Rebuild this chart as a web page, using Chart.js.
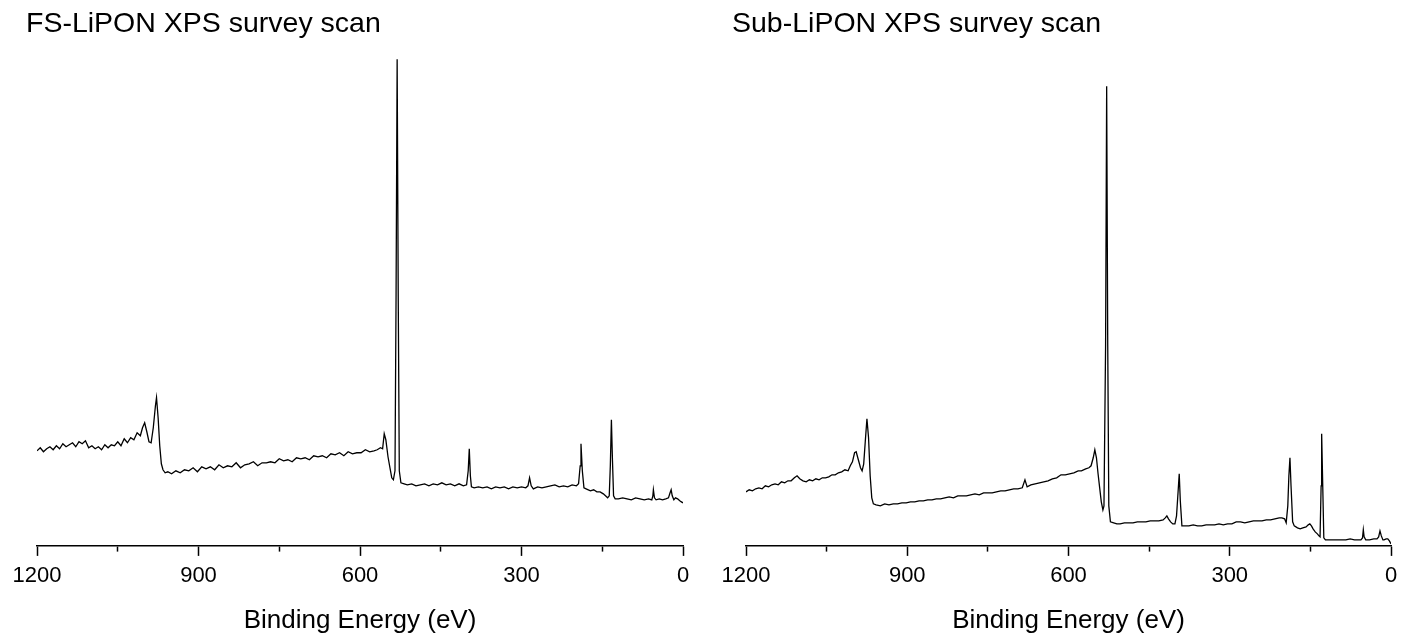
<!DOCTYPE html>
<html>
<head>
<meta charset="utf-8">
<script src="https://cdn.jsdelivr.net/npm/chart.js@4"></script>
<style>
  body { margin: 0; background: #fff; }
  .panel { position: absolute; top: 0; height: 636px; }
</style>
</head>
<body>
<div class="panel" style="left:0;width:708px"><canvas id="fsChart" width="708" height="636"></canvas></div>
<div class="panel" style="left:708px;width:709px"><canvas id="subChart" width="709" height="636"></canvas></div>
<script>
const majorTicks = [1200, 900, 600, 300, 0];
const minorTicks = [1050, 750, 450, 150];

// FS-LiPON survey, binding energy (eV) and intensity (a.u.)
const fsEnergy = [
  1200, 1194, 1188, 1182, 1176, 1170, 1164, 1158, 1152, 1146,
  1140, 1134, 1128, 1122, 1116, 1110, 1104, 1098, 1092, 1086,
  1080, 1074, 1068, 1062, 1056, 1050, 1044, 1038, 1032, 1026,
  1020, 1014, 1008, 1004, 1000, 996, 992, 988, 984, 980,
  978, 975, 972, 969, 966, 962, 957, 950, 942, 934,
  926, 918, 910, 902, 894, 886, 878, 870, 862, 854,
  846, 838, 830, 822, 814, 806, 798, 790, 782, 774,
  766, 758, 750, 742, 734, 726, 718, 710, 702, 694,
  686, 678, 670, 662, 654, 646, 638, 630, 622, 614,
  606, 598, 590, 582, 574, 568, 562, 558, 555, 552,
  548, 544, 541, 538, 535, 533, 531, 529, 527, 524,
  518, 512, 504, 496, 488, 480, 472, 464, 456, 448,
  440, 432, 424, 416, 408, 402, 399, 397, 395, 393,
  388, 380, 372, 364, 356, 348, 340, 332, 324, 316,
  308, 300, 292, 288, 285, 282, 278, 270, 262, 254,
  246, 238, 230, 222, 214, 206, 198, 194, 191, 189.5,
  187, 184, 180, 172, 166, 160, 154, 148, 144, 140,
  137, 135, 133, 131, 129, 126, 120, 112, 104, 96,
  88, 80, 72, 64, 58, 56, 55, 53, 50, 44,
  38, 32, 27, 24, 22, 20, 17, 14, 10, 6,
  3, 0
];
const fsCounts = [
  95, 98, 94, 97, 99, 96, 100, 97, 102, 99,
  101, 103, 99, 104, 102, 105, 98, 100, 97, 99,
  96, 101, 98, 101, 100, 104, 100, 107, 103, 108,
  106, 113, 110, 118, 123, 114, 104, 103, 118, 140,
  148, 128, 100, 82, 76, 73, 74, 72, 75, 73,
  76, 75, 78, 74, 79, 77, 79, 76, 81, 78,
  80, 79, 83, 78, 81, 82, 84, 80, 83, 83,
  84, 83, 87, 85, 86, 84, 88, 87, 88, 86,
  90, 89, 90, 88, 92, 91, 93, 90, 94, 92,
  93, 93, 96, 94, 95, 96, 98, 97, 112, 106,
  89, 77, 68, 66, 75, 250, 486, 250, 75, 63,
  62, 61, 62, 60, 61, 62, 60, 62, 61, 63,
  61, 62, 60, 62, 60, 61, 75, 97, 70, 59,
  58, 59, 58, 59, 57, 59, 58, 59, 57, 59,
  58, 59, 58, 60, 68, 60, 57, 59, 58, 59,
  60, 61, 59, 60, 59, 61, 60, 62, 80, 102,
  75, 58, 57, 55, 56, 54, 54, 52, 50, 48,
  50, 80, 126, 85, 50, 47, 47, 48, 47, 46,
  48, 47, 46, 47, 46, 50, 56, 48, 46, 47,
  46, 47, 48, 53, 56, 50, 46, 48, 47, 45,
  44, 43
];

// Sub-LiPON survey
const subEnergy = [
  1200, 1194, 1188, 1182, 1176, 1170, 1164, 1158, 1152, 1146,
  1140, 1134, 1128, 1122, 1116, 1110, 1105, 1100, 1094, 1088,
  1082, 1076, 1070, 1064, 1058, 1052, 1046, 1040, 1034, 1028,
  1022, 1016, 1010, 1006, 1002, 998, 995, 991, 987, 984,
  981, 978, 975, 972, 969, 966, 963, 958, 950, 942,
  934, 926, 918, 910, 902, 894, 886, 878, 870, 862,
  854, 846, 838, 830, 822, 814, 806, 798, 790, 782,
  774, 766, 758, 750, 742, 734, 726, 718, 710, 702,
  694, 686, 681, 677, 670, 662, 654, 646, 638, 630,
  622, 614, 606, 598, 590, 582, 576, 568, 562, 558,
  554, 551, 548, 545, 542, 539, 536, 534, 531, 529,
  527, 525, 522, 516, 510, 504, 496, 488, 480, 472,
  464, 456, 448, 440, 432, 424, 420, 417, 414, 410,
  406, 402, 399, 396, 394, 392, 389, 384, 376, 368,
  360, 352, 344, 336, 328, 320, 312, 304, 296, 288,
  280, 272, 264, 256, 248, 240, 232, 224, 216, 208,
  203, 198, 195, 192, 190, 188, 186, 183, 180, 174,
  169, 164, 158, 154, 151, 148, 145, 141, 137, 134,
  132, 130, 129, 127, 125, 122, 116, 108, 100, 92,
  84, 76, 68, 60, 56, 53, 51.5, 50, 47, 40,
  32, 26, 23, 20.5, 18, 15, 13, 9, 6, 3,
  0
];
const subCounts = [
  54, 56, 55, 57, 58, 57, 60, 59, 61, 62,
  61, 64, 63, 65, 65, 68, 70, 67, 65, 64,
  66, 65, 67, 66, 68, 68, 69, 71, 71, 73,
  74, 76, 75, 80, 84, 93, 94, 86, 78, 75,
  82, 105, 127, 108, 70, 48, 42, 41, 40, 42,
  41, 42, 42, 43, 43, 44, 44, 45, 45, 46,
  46, 47, 47, 48, 49, 48, 50, 50, 50, 51,
  52, 51, 53, 53, 53, 54, 55, 55, 56, 57,
  57, 58, 66, 59, 61, 62, 63, 64, 65, 67,
  68, 71, 71, 72, 73, 75, 75, 77, 78, 80,
  88, 96, 88, 72, 58, 44, 36, 40, 200, 459,
  200, 40, 24, 23, 22, 22, 23, 23, 23, 24,
  24, 24, 25, 25, 25, 26, 28, 30, 27, 24,
  22, 22, 30, 55, 72, 45, 20, 20, 20, 21,
  20, 20, 21, 21, 21, 22, 21, 22, 22, 24,
  24, 23, 24, 25, 25, 25, 26, 26, 27, 28,
  28, 27, 23, 40, 70, 88, 60, 24, 20, 18,
  17, 18, 19, 21, 22, 20, 17, 14, 12, 10,
  9, 60, 112, 60, 8, 6, 6, 6, 6, 6,
  6, 7, 6, 6, 6, 8, 16, 9, 6, 6,
  7, 7, 9, 15, 10, 6, 6, 7, 7, 5,
  2
];

const fontFamily = "'Liberation Sans', Arial, sans-serif";
const allTicks = [...majorTicks, ...minorTicks].sort((a, b) => b - a);

const makeSurvey = (el, title, energy, counts, padLeft, gap, padRight) => {
  new Chart(el, {
    type: "line",
    data: {
      datasets: [
        {
          data: energy.map((e, i) => ({ x: e, y: counts[i] })),
          borderColor: "#000",
          borderWidth: 1.3,
          pointRadius: 0,
          tension: 0,
        },
      ],
    },
    options: {
      responsive: false,
      animation: false,
      devicePixelRatio: 1,
      layout: { padding: { left: padLeft, right: padRight, top: 0, bottom: 0 } },
      plugins: {
        legend: { display: false },
        tooltip: { enabled: false },
        title: {
          display: true,
          text: title,
          align: "start",
          color: "#000",
          font: { size: 28.5, family: fontFamily, weight: "normal" },
          padding: { top: 7, bottom: 9 },
        },
      },
      scales: {
        x: {
          type: "linear",
          reverse: true,
          min: 0,
          max: 1200,
          afterBuildTicks: (s) => {
            s.ticks = allTicks.map((v) => ({ value: v }));
          },
          ticks: {
            autoSkip: false,
            maxRotation: 0,
            color: "#000",
            padding: 7,
            font: { size: 22, family: fontFamily },
            callback: (v) => (majorTicks.includes(v) ? String(v) : ""),
          },
          grid: {
            drawOnChartArea: false,
            tickLength: 10,
            tickColor: "#000",
            tickWidth: 1.5,
            tickBorderDash: (c) => (c.tick && minorTicks.includes(c.tick.value) ? [5, 20] : []),
          },
          border: { color: "#000", width: 1.6 },
          title: {
            display: true,
            text: "Binding Energy (eV)",
            color: "#000",
            font: { size: 26, family: fontFamily },
            padding: { top: 8.5, bottom: 0 },
          },
        },
        y: {
          min: 0,
          max: 495,
          ticks: { display: false },
          grid: { display: false },
          border: { display: false },
          afterFit: (s) => {
            s.width = gap;
          },
        },
      },
    },
  });
};

makeSurvey(document.getElementById("fsChart"), "FS-LiPON XPS survey scan", fsEnergy, fsCounts, 26, 11, 25);
makeSurvey(document.getElementById("subChart"), "Sub-LiPON XPS survey scan", subEnergy, subCounts, 24, 14, 26);
</script>
</body>
</html>
